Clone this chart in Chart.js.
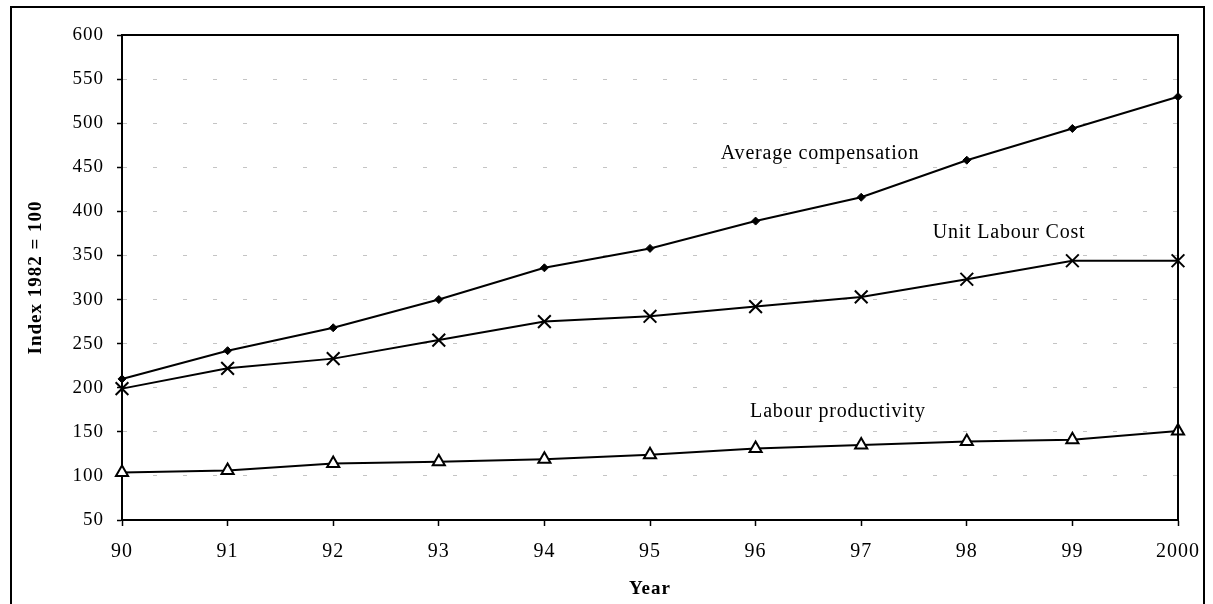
<!DOCTYPE html>
<html>
<head>
<meta charset="utf-8">
<style>
  html, body { margin: 0; padding: 0; background: #fff; }
</style>
<script src="https://cdn.jsdelivr.net/npm/chart.js@4.4.1/dist/chart.umd.min.js"></script>
</head>
<body>
<canvas id="chart" width="1213" height="604"></canvas>
<script>
// Data
const years = ["90", "91", "92", "93", "94", "95", "96", "97", "98", "99", "2000"];
const avgCompensation = [210, 242, 268, 300, 336, 358, 389, 416, 458, 494, 530];
const unitLabourCost = [199, 222, 233, 254, 275, 281, 292, 303, 323, 344, 344];
const labourProductivity = [104, 106, 114, 116, 119, 124, 131, 135, 139, 141, 151];
const seriesNames = ["Average compensation", "Unit Labour Cost", "Labour productivity"];
const yMin = 50, yMax = 600, yStep = 50;

const serif = "'Liberation Serif', 'DejaVu Serif', serif";

// where the series names sit (category index, value)
const nameSpots = [
    { x: 6.61, y: 465 },
    { x: 8.40, y: 376 },
    { x: 6.78, y: 173 }
];

const framePlugin = {
    id: "frame",
    beforeDraw(chart) {
        const ctx = chart.ctx;
        ctx.save();
        ctx.fillStyle = "#fff";
        ctx.fillRect(0, 0, chart.width, chart.height);
        ctx.restore();
        // the scan is a bit stretched sideways, so space the letters out a little
        ctx.letterSpacing = "1px";
    },
    afterDraw(chart) {
        const { ctx, chartArea: a } = chart;
        ctx.save();
        ctx.strokeStyle = "#000";
        ctx.lineWidth = 2;
        ctx.beginPath();
        ctx.moveTo(a.left, a.top);
        ctx.lineTo(a.right, a.top);
        ctx.lineTo(a.right, a.bottom);
        ctx.stroke();
        // outer box of the figure
        ctx.strokeRect(11, 7, 1193, 640);
        ctx.restore();
    }
};

const namesPlugin = {
    id: "names",
    afterDatasetsDraw(chart) {
        const { ctx, scales } = chart;
        ctx.save();
        ctx.font = "20px " + serif;
        ctx.fillStyle = "#000";
        ctx.textAlign = "center";
        ctx.textBaseline = "middle";
        ctx.letterSpacing = "0.8px";
        seriesNames.forEach((name, i) => {
            const s = nameSpots[i];
            ctx.fillText(name, scales.x.getPixelForValue(s.x), scales.y.getPixelForValue(s.y));
        });
        ctx.restore();
    }
};

new Chart(document.getElementById("chart").getContext("2d"), {
    type: "line",
    data: {
        labels: years,
        datasets: [
            {
                label: seriesNames[0],
                data: avgCompensation,
                borderColor: "#000",
                borderWidth: 2,
                pointStyle: "rectRot",
                pointRadius: 4,
                pointBackgroundColor: "#000",
                pointBorderColor: "#000",
                pointBorderWidth: 1
            },
            {
                label: seriesNames[1],
                data: unitLabourCost,
                borderColor: "#000",
                borderWidth: 2,
                pointStyle: "crossRot",
                pointRadius: 9,
                pointBorderColor: "#000",
                pointBorderWidth: 2
            },
            {
                label: seriesNames[2],
                data: labourProductivity,
                borderColor: "#000",
                borderWidth: 2,
                pointStyle: "triangle",
                pointRadius: 7,
                pointBackgroundColor: "#fff",
                pointBorderColor: "#000",
                pointBorderWidth: 2
            }
        ]
    },
    options: {
        responsive: false,
        animation: false,
        clip: false,
        layout: { padding: { left: 21, top: 35, right: 35, bottom: 0 } },
        plugins: {
            legend: { display: false },
            tooltip: { enabled: false }
        },
        scales: {
            x: {
                type: "category",
                offset: false,
                grid: {
                    drawOnChartArea: false,
                    tickLength: 6,
                    tickColor: "#000",
                    tickWidth: 1.5
                },
                border: { color: "#000", width: 2 },
                ticks: {
                    color: "#000",
                    font: { family: serif, size: 20 },
                    padding: 14,
                    maxRotation: 0,
                    autoSkip: false
                },
                title: {
                    display: true,
                    text: "Year",
                    color: "#000",
                    font: { family: serif, size: 19, weight: "bold" },
                    padding: { top: 4, bottom: 4 }
                },
                afterFit: (s) => { s.height = 84; }
            },
            y: {
                min: yMin,
                max: yMax,
                grid: {
                    color: (c) => (c.tick && (c.tick.value === yMin || c.tick.value === yMax)) ? "rgba(0,0,0,0)" : "#c4c4c4",
                    lineWidth: 1,
                    tickLength: 5,
                    tickColor: "#000",
                    tickWidth: 1.5
                },
                border: { color: "#000", width: 2, dash: [4, 26] },
                ticks: {
                    stepSize: yStep,
                    color: "#000",
                    font: { family: serif, size: 19 },
                    padding: 13
                },
                title: {
                    display: true,
                    text: "Index 1982 = 100",
                    color: "#000",
                    font: { family: serif, size: 19, weight: "bold" },
                    padding: { top: 4, bottom: 4 }
                },
                afterFit: (s) => { s.width = 101; }
            }
        }
    },
    plugins: [framePlugin, namesPlugin]
});
</script>
</body>
</html>
